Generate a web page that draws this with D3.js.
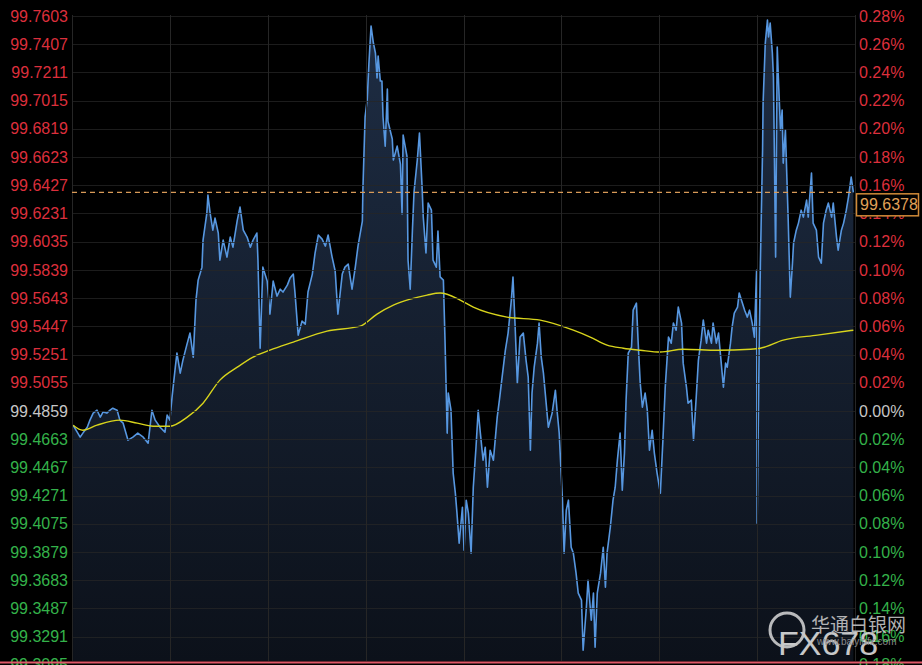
<!DOCTYPE html>
<html><head><meta charset="utf-8">
<script src="https://cdn.jsdelivr.net/npm/d3@7/dist/d3.min.js"></script>
<style>html,body{margin:0;padding:0;background:#000;overflow:hidden}svg{display:block}</style>
</head><body>
<svg id="c" width="922" height="665"></svg>
<script>
// ---- data (minutes since session open, price) ----
const times = [2,15,20,28,33,39,46,52,57,64,70,75,83,88,94,103,112,121,131,140,147,153,162,171,175,180,184,190,193,199,204,212,217,223,228,232,239,241,248,250,254,259,263,269,272,278,285,291,296,304,309,315,322,328,333,340,342,346,
351,359,364,370,377,383,388,396,401,407,410,416,423,429,434,442,447,453,460,466,471,478,484,489,497,502,508,515,521,526,534,535,539,543,546,550,554,558,561,563,567,570,572,576,580,581,589,591,598,604,607,609,616,618,622,626,629,635,639,644,646,651,655,661,664,670,673,677,
683,686,690,692,697,701,705,708,712,718,721,725,729,734,738,743,747,751,756,760,764,769,775,782,786,791,797,802,808,811,815,819,824,830,835,839,843,846,850,856,859,863,867,872,876,883,889,892,896,902,905,909,913,918,922,927,931,937,940,946,949,955,959,962,966,972,977,981,984,990,995,999,1003,1008,1012,1016,1019,1023,1029,1032,1038,1041,1045,1049,1054,1058,1062,1067,1071,1076,
1082,1087,1091,1097,1102,1106,1111,1115,1121,1124,1130,1133,1139,1143,1148,1152,1157,1161,1167,1170,1176,1179,1185,1189,1194,1198,1202,1205,1211,1214,1218,1224,1227,1233,1237,1242,1246,1251,1255,1259,1260,1264,1266,1270,1271,1275,1279,1281,1284,1288,1290,1294,1297,1299,1303,1306,1308,1312,1316,1317,1321,1325,1327,1332,1336,1341,1345,1351,1354,1360,1363,1369,1373,1378,1382,1387,1391,1397,1400,1406,1409,1415,1419,1424,1428,1433,1437];
const prices = [99.4760,99.4677,99.4705,99.4746,99.4795,99.4844,99.4864,99.4816,99.4851,99.4844,99.4864,99.4878,99.4864,99.4795,99.4774,99.4656,99.4677,99.4705,99.4677,99.4635,99.4864,99.4795,99.4746,99.4712,99.4830,99.4795,99.4955,99.5163,99.5261,99.5122,99.5212,99.5330,99.5400,99.5233,99.5629,99.5768,99.5858,99.6046,99.6234,99.6359,99.6234,99.6115,99.6199,99.6095,99.5907,99.6046,99.5928,99.6067,99.5997,99.6185,99.6275,99.6115,99.6067,99.5997,99.6046,99.6095,99.5907,99.5295,
99.5858,99.5761,99.5532,99.5761,99.5657,99.5705,99.5685,99.5733,99.5782,99.5810,99.5685,99.5386,99.5483,99.5462,99.5685,99.5810,99.5956,99.6081,99.6053,99.6004,99.6081,99.5935,99.5831,99.5532,99.5810,99.5858,99.5879,99.5705,99.5858,99.6004,99.6178,99.6400,99.6901,99.7026,99.7269,99.7533,99.7422,99.7346,99.7172,99.7325,99.7151,99.7151,99.6901,99.6699,99.7095,99.6873,99.6748,99.6602,99.6699,99.6574,99.6227,99.6776,99.6630,99.5907,99.5705,99.6109,99.6380,99.6602,99.6790,99.6400,99.6206,99.5956,99.6303,99.6254,99.5907,99.5858,99.6109,99.5790,
99.5768,99.5351,99.4705,99.4983,99.4864,99.4427,99.4288,99.4149,99.3940,99.4190,99.3891,99.4239,99.4149,99.3871,99.4329,99.4607,99.4864,99.4705,99.4517,99.4607,99.4329,99.4586,99.4517,99.4816,99.4934,99.5094,99.5281,99.5400,99.5629,99.5789,99.5441,99.5052,99.5372,99.5400,99.5212,99.5094,99.4586,99.4983,99.5163,99.5330,99.5469,99.5233,99.5122,99.4913,99.4746,99.4844,99.5003,99.4864,99.4705,99.4239,99.3871,99.4169,99.4239,99.3912,99.3871,99.3732,99.3593,99.3544,99.3196,99.3495,99.3683,99.3405,99.3593,99.3217,99.3593,99.3732,99.3912,99.3634,99.3871,99.4051,99.4239,99.4329,99.4517,99.4705,99.4308,99.4566,99.4934,99.5261,99.5302,99.5559,99.5608,99.5351,99.5052,99.4885,99.4983,99.4864,99.4586,99.4725,99.4566,99.4427,
99.4288,99.4677,99.5024,99.5372,99.5330,99.5469,99.5420,99.5580,99.5469,99.5191,99.5024,99.4913,99.4934,99.4656,99.4955,99.5212,99.5351,99.5490,99.5330,99.5420,99.5330,99.5469,99.5330,99.5400,99.5191,99.5024,99.5191,99.5163,99.5330,99.5441,99.5539,99.5580,99.5678,99.5608,99.5559,99.5511,99.5559,99.5469,99.5372,99.5837,99.4079,99.5372,99.5886,99.6671,99.6998,99.7415,99.7575,99.7457,99.7554,99.7346,99.7179,99.5928,99.7387,99.7179,99.6810,99.6949,99.6581,99.6810,99.6324,99.6206,99.5650,99.5886,99.6025,99.6115,99.6164,99.6254,99.6206,99.6324,99.6206,99.6512,99.6164,99.6115,99.5928,99.5886,99.6164,99.6254,99.6303,99.6206,99.6303,99.6067,99.5976,99.6115,99.6164,99.6254,99.6345,99.6484,99.6378];
const maTimes = [2,20,46,88,120,149,180,212,241,272,304,333,364,407,469,530,561,591,622,653,677,714,738,800,861,922,953,984,1014,1045,1082,1124,1187,1248,1266,1308,1371,1437];
const maValues = [99.4760,99.4725,99.4760,99.4795,99.4774,99.4753,99.4753,99.4816,99.4913,99.5073,99.5163,99.5233,99.5281,99.5337,99.5414,99.5448,99.5532,99.5594,99.5636,99.5664,99.5678,99.5629,99.5580,99.5511,99.5490,99.5420,99.5372,99.5316,99.5295,99.5281,99.5268,99.5288,99.5281,99.5288,99.5295,99.5351,99.5386,99.5420];
const leftTicks = [99.7603,99.7407,99.7211,99.7015,99.6819,99.6623,99.6427,99.6231,99.6035,99.5839,99.5643,99.5447,99.5251,99.5055,99.4859,99.4663,99.4467,99.4271,99.4075,99.3879,99.3683,99.3487,99.3291,99.3095];
const rightTicks = [0.28,0.26,0.24,0.22,0.20,0.18,0.16,0.14,0.12,0.10,0.08,0.06,0.04,0.02,0.00,-0.02,-0.04,-0.06,-0.08,-0.10,-0.12,-0.14,-0.16,-0.18];
const gridTimes = [0,180,360,540,720,900,1080,1260,1440];
const basePrice = 99.4859;
const lastPrice = 99.6378;

// ---- chart ----
const svg = d3.select('#c');
const L = 72, R = 855, T = 16, B = 661;
const x = d3.scaleLinear().domain([0,1440]).range([L,R]);
const y = d3.scaleLinear().domain([99.7603,99.3095]).range([T, T + 23*28.21]);
const yPct = d3.scaleLinear().domain([0.28,-0.18]).range([T, T + 23*28.21]);
const RED = '#dc2f3c', GREEN = '#34b24a', GRAY = '#c6c6c6';
const col = v => Math.abs(v - basePrice) < 1e-6 ? GRAY : (v > basePrice ? RED : GREEN);
const colP = v => Math.abs(v) < 1e-6 ? GRAY : (v > 0 ? RED : GREEN);

svg.append('rect').attr('width',922).attr('height',665).attr('fill','#000');

const defs = svg.append('defs');
const g1 = defs.append('linearGradient').attr('id','fillg').attr('x1',0).attr('y1',0).attr('x2',0).attr('y2',1);
g1.append('stop').attr('offset','0%').attr('stop-color','#1e2d44');
g1.append('stop').attr('offset','100%').attr('stop-color','#0c111a');
defs.append('clipPath').attr('id','clip').append('rect').attr('x',L).attr('y',T-2).attr('width',R-L).attr('height',B-T+2);

const data = times.map((t,i)=>({t, v: prices[i]}));
const ma = maTimes.map((t,i)=>({t, v: maValues[i]}));

const plot = svg.append('g').attr('clip-path','url(#clip)');
plot.append('path').datum(data)
  .attr('d', d3.area().x(d=>x(d.t)).y0(B).y1(d=>y(d.v)))
  .attr('fill','url(#fillg)');

// grid
const grid = svg.append('g');
grid.selectAll('.h').data(leftTicks).join('line')
  .attr('x1',L).attr('x2',R).attr('y1',d=>Math.round(y(d))+0.5).attr('y2',d=>Math.round(y(d))+0.5)
  .attr('stroke','#262626').attr('stroke-width',1).attr('opacity',0.75);
grid.selectAll('.v').data(gridTimes).join('line')
  .attr('x1',d=>Math.round(x(d))+0.5).attr('x2',d=>Math.round(x(d))+0.5).attr('y1',T-1).attr('y2',B)
  .attr('stroke','#262626').attr('stroke-width',1);

plot.append('path').datum(data)
  .attr('d', d3.line().x(d=>x(d.t)).y(d=>y(d.v)))
  .attr('fill','none').attr('stroke','#5797e0').attr('stroke-width',1.6).attr('stroke-linejoin','round');
plot.append('path').datum(ma)
  .attr('d', d3.line().curve(d3.curveMonotoneX).x(d=>x(d.t)).y(d=>y(d.v)))
  .attr('fill','none').attr('stroke','#d8d41c').attr('stroke-width',1.4);

// last price dashed line
svg.append('line').attr('x1',L).attr('x2',R).attr('y1',y(lastPrice)).attr('y2',y(lastPrice))
  .attr('stroke','#d89a58').attr('stroke-width',1.2).attr('stroke-dasharray','5,4');

// axes
const la = svg.append('g').attr('transform',`translate(${L},0)`)
  .call(d3.axisLeft(y).tickValues(leftTicks).tickSize(0).tickPadding(4).tickFormat(d3.format('.4f')));
la.select('.domain').remove();
la.selectAll('text').attr('fill',d=>col(d)).style('font-family','"Liberation Sans", Arial, sans-serif').style('font-size','16px');

const ra = svg.append('g').attr('transform',`translate(${R},0)`)
  .call(d3.axisRight(yPct).tickValues(rightTicks).tickSize(0).tickPadding(4).tickFormat(d=>d3.format('.2f')(Math.abs(d))+'%'));
ra.select('.domain').remove();
ra.selectAll('text').attr('fill',d=>colP(d)).style('font-family','"Liberation Sans", Arial, sans-serif').style('font-size','16px');

// last price label
const ly = y(lastPrice);
svg.append('rect').attr('x',R+1.5).attr('y',ly+1.5).attr('width',62).attr('height',22)
  .attr('fill','#000').attr('stroke','#d08a38').attr('stroke-width',1.5);
svg.append('text').attr('x',R+5).attr('y',ly+18).text(d3.format('.4f')(lastPrice))
  .attr('fill','#e0a058').style('font-family','"Liberation Sans", Arial, sans-serif').style('font-size','16px');

// bottom border
svg.append('line').attr('x1',0).attr('x2',922).attr('y1',662.5).attr('y2',662.5).attr('stroke','#e05868').attr('stroke-width',2);

// watermark
const wm = svg.append('g').attr('opacity',0.85);
wm.append('circle').attr('cx',787).attr('cy',630).attr('r',17).attr('fill','none').attr('stroke','#d8d8d8').attr('stroke-width',3);
wm.append('text').attr('x',778).attr('y',655).text('FX678').attr('fill','#e8e8e8')
  .style('font-family','"Liberation Sans", Arial, sans-serif').style('font-size','34px');
wm.append('text').attr('x',811).attr('y',632).text('华通白银网').attr('fill','#d0d0d0')
  .style('font-family','"Noto Sans CJK SC", sans-serif').style('font-size','19px');
wm.append('text').attr('x',817).attr('y',645).text('www.baiyinfx.com').attr('fill','#a0a0a0')
  .style('font-family','"Liberation Sans", Arial, sans-serif').style('font-size','10px');
</script>
</body></html>
